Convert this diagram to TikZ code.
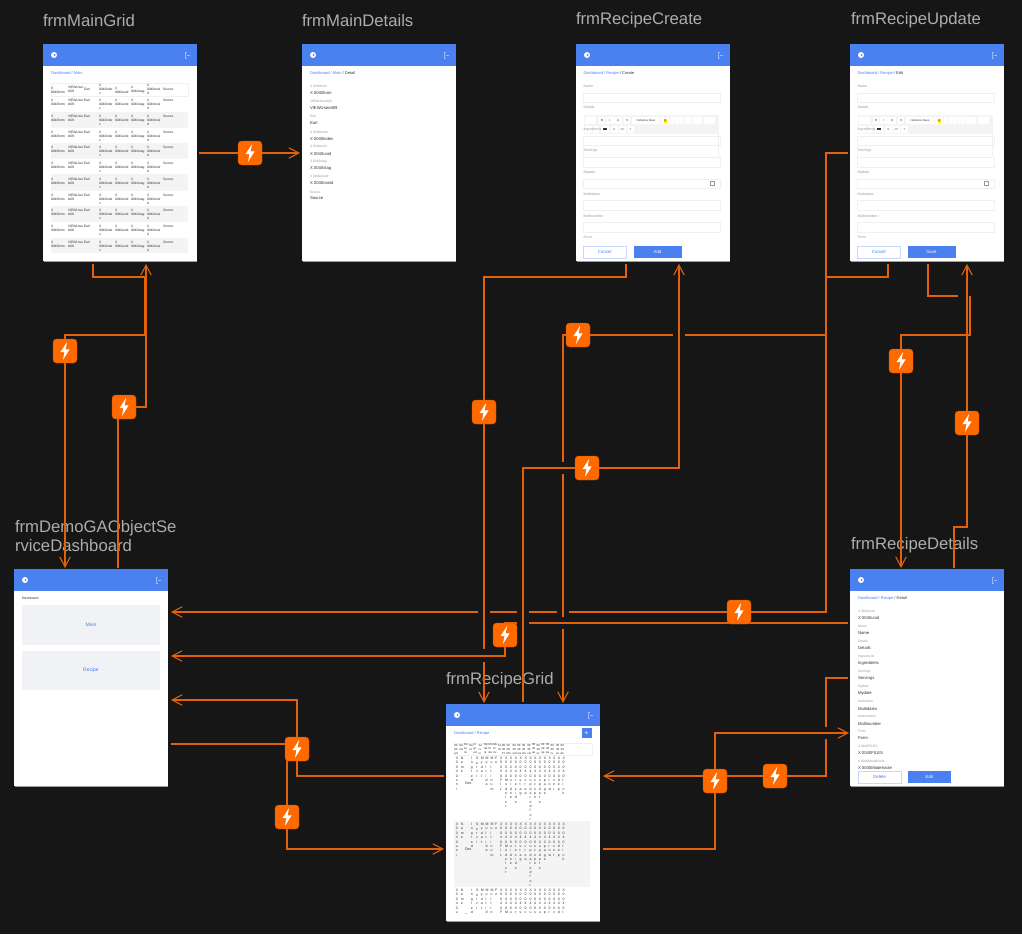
\documentclass[tikz,border=0pt]{standalone}
\usepackage{fontspec}
\setmainfont{Liberation Sans}
\usetikzlibrary{arrows.meta}
\definecolor{bgc}{HTML}{161616}
\definecolor{linec}{HTML}{E2620C}
\definecolor{boltc}{HTML}{FF6A00}
\definecolor{blu}{HTML}{4A80EF}
\definecolor{ttl}{HTML}{ADADAD}
\definecolor{gry}{HTML}{F4F4F4}
\definecolor{pane}{HTML}{F1F2F6}
\definecolor{edge}{HTML}{EEF0F3}
\definecolor{lab}{HTML}{9A9A9A}
\definecolor{val}{HTML}{333333}
\newcount\tn
% \putt[opts]{x}{y}{size}{text}
\newcommand\putt[5][]{\global\advance\tn by 1
  \node[anchor=west,inner sep=0pt,outer sep=0pt,align=left,text=val,font=\fontsize{#4}{4}\selectfont,#1] (t\the\tn) at ({#2},{#3}) {#5};}
\newcommand\scrtitle[3]{\putt[text=ttl,font=\fontsize{16.7}{18}\selectfont]{#1}{#2}{16.7}{#3}}
\newcommand\screenat[3]{%
  \fill[white!62!black] (#2+.7,#3+.7) rectangle ++(153.5,217);
  \node[screenbox] (#1) at (#2,#3) {};
  \node[headbox] (#1h) at (#2,#3) {};
  \fill[white] (#2+11,#3+11) circle (3);
  \fill[blu] (#2+11.6,#3+11) circle (1);
  \draw[white,opacity=.45,line width=.5pt] (#2+144,#3+8) -- (#2+142,#3+8) -- (#2+142,#3+14) -- (#2+144,#3+14) (#2+144,#3+11) -- (#2+147,#3+11);
}
\newcommand\bolt[3]{\node[boltbox] (#1) at (#2,#3) {};
  \fill[white,shift={(#1.center)}] (2,-8.8) -- (-4.6,1.2) -- (-0.6,1.2) -- (-2,8.8) -- (4.6,-1.6) -- (0.6,-1.6) -- cycle;}
\def\stk#1{\expandafter\stkA#1\relax}
\def\stkA#1{\ifx#1\relax\else\hbox{#1}\expandafter\stkA\fi}
\newcommand\stackcol[3]{\global\advance\tn by 1
  \node[anchor=north west,inner sep=0pt,text=val,font=\fontsize{3.5}{4}\selectfont] (t\the\tn) at (#1,#2) {\vtop{\baselineskip=4.35pt\lineskiplimit=-10pt\stk{#3}}};}
\newcommand\crumb[4]{\putt{#1}{#2}{4}{\textcolor{blu}{#3}#4}}
% form screen
\newcommand\formscreen[5]{%
  \screenat{#1}{#2}{44}
  \begin{scope}[xshift=#2 pt]
  \crumb{7.5}{73.5}{Dashboard / Recipe }{/ #3}
  \foreach \ly/\lt in {86/Name,107.5/Details,151/Servings,172.5/Mydate,194/Multidates,216/Multinumber,237.5/Form}{\putt[text=lab]{7.5}{\ly}{3.6}{\lt}}
  \foreach \ya/\yb in {93/102,136/145,157/167,179/188,200/210,222/232}{\draw[edge,line width=.5pt,fill=white] (7.5,\ya) rectangle (144,\yb);}
  \draw[edge,line width=.5pt] (7.5,145) -- (7.5,157) (142.5,134) -- (142.5,157);
  \fill[gry] (7.5,115) rectangle (143,134);
  \foreach \xa/\xb in {9.3/20.3,22.7/29.3,30/37.7,38.3/46,47.7/54.3,56/83.7,85.3/92.7,93.7/97.7,99.3/106.7,107.7/115.3,116/126,127.7/139}{\fill[white] (\xa,116.7) rectangle (\xb,124);}
  \foreach \xa/\xb in {9.3/16,16.7/23,25.3/32.7,35/41.7,42.7/50,51/57.7}{\fill[white] (\xa,126) rectangle (\xb,132.5);}
  \fill[yellow!85!orange] (87.5,118.5) rectangle (90.5,122.5);
  \foreach \tw/\tz in {26/B,33.8/I,42/U,51/S,89/A}{\putt[anchor=center]{\tw}{120.4}{3}{\tz}}
  \putt[anchor=center]{70}{120.4}{2.8}{Helvetica Neue}
  \foreach \tw/\tz in {38.3/X,46.3/{</>},54.3/?}{\putt[anchor=center]{\tw}{129.3}{2.8}{\tz}}
  \fill[val] (27,128.3) rectangle (31,130.3);
  \putt[text=lab]{7.7}{129.3}{3.6}{Ingredients}
  \draw[lab,line width=.4pt] (134,181) rectangle (138,185.5);
  \node[cancelbox] (#1c) at (28.8,252) {\textcolor{blu}{Cancel}};
  \node[okbox] (#1o) at (81.5,252) {#4};
  \end{scope}
}
\newcommand\dline[5]{\putt[text=lab]{#1}{#2}{3.3}{#4}\putt{#1}{#3}{4.2}{#5}}
\tikzset{
  screenbox/.style={fill=white,minimum width=153.5pt,minimum height=217pt,anchor=north west,inner sep=0pt,outer sep=0pt},
  headbox/.style={fill=blu,minimum width=153.5pt,minimum height=22pt,anchor=north west,inner sep=0pt,outer sep=0pt},
  boltbox/.style={fill=boltc,draw=boltc!75!black,line width=.4pt,rounded corners=3.5pt,minimum size=24pt,inner sep=0pt,outer sep=0pt},
  conn/.style={draw=linec,line width=1.08pt},
  flow/.style={conn,-{Straight Barb[length=10pt,width=10.5pt,line width=1.08pt]}},
  cancelbox/.style={draw=blu!30,line width=.6pt,fill=white,minimum width=43pt,minimum height=12pt,inner sep=0pt,font=\fontsize{4.4}{4}\selectfont},
  okbox/.style={fill=blu,text=white,minimum width=48pt,minimum height=12pt,inner sep=0pt,font=\fontsize{4.4}{4}\selectfont},
  panebox/.style={fill=pane,minimum width=138pt,minimum height=39.5pt,inner sep=0pt,text=blu,font=\fontsize{5}{5}\selectfont},
}
\begin{document}
\begin{tikzpicture}[x=1pt,y=-1pt]
\useasboundingbox (0,0) rectangle (1022,934);
\fill[bgc] (0,0) rectangle (1022,934);

% titles
\scrtitle{43}{20.5}{frmMainGrid}
\scrtitle{302}{20.5}{frmMainDetails}
\scrtitle{576}{20.5}{frmRecipeCreate}
\scrtitle{851}{20.5}{frmRecipeUpdate}
\scrtitle{15}{528}{frmDemoGAObjectSe}
\scrtitle{15}{546}{rviceDashboard}
\scrtitle{446}{680}{frmRecipeGrid}
\scrtitle{851}{545.5}{frmRecipeDetails}

% frmMainGrid
\screenat{mg}{43}{44}
\crumb{51}{73.5}{Dashboard / Main}{}
\draw[edge,line width=.4pt] (51,83) rectangle (188,96);
\foreach \ga/\gb in {112/128,143/159,174/191,206/222,238/253}{\fill[gry] (51,\ga) rectangle (188,\gb);}
\putt{51}{90}{3.3}{X\\0040form}
\putt{68}{89.5}{3.3}{VIEWUser\\id09}
\putt{84}{89.5}{3.3}{Earl}
\putt{99}{89.5}{3.3}{X\\0040inde\\x}
\putt{115}{90}{3.3}{X\\0040unid}
\putt{131}{90}{3.3}{X\\0040stag}
\putt{147}{89.5}{3.3}{X\\0040rowi\\d}
\putt{163}{89.5}{3.3}{Source}
\foreach \ry in {99,115,131,146.5,162.5,178,194,209.5,225.5,241}{
  \putt[anchor=north west]{51}{\ry}{3.3}{X\\0040form}
  \putt[anchor=north west]{68}{\ry}{3.3}{VIEWUser\\id09}
  \putt[anchor=north west]{84}{\ry}{3.3}{Earl}
  \putt[anchor=north west]{99}{\ry}{3.3}{X\\0040inde\\x}
  \putt[anchor=north west]{115}{\ry}{3.3}{X\\0040unid}
  \putt[anchor=north west]{131}{\ry}{3.3}{X\\0040stag}
  \putt[anchor=north west]{147}{\ry}{3.3}{X\\0040rowi\\d}
  \putt[anchor=north west]{163}{\ry}{3.3}{Source}
}

% frmMainDetails
\screenat{md}{302}{44}
\crumb{310}{73.5}{Dashboard / Main }{/ Detail}
\dline{310}{86.5}{93}{X 0040form}{X 0040form}
\dline{310}{101.5}{108}{VIEWUserid09}{VIEWUserid09}
\dline{310}{116.5}{123}{Earl}{Earl}
\dline{310}{132}{138.5}{X 0040index}{X 0040index}
\dline{310}{146.5}{153.5}{X 0040unid}{X 0040unid}
\dline{310}{161.5}{168}{X 0040stag}{X 0040stag}
\dline{310}{176.5}{183}{X 0040rowid}{X 0040rowid}
\dline{310}{192}{198.5}{Source}{Source}

% forms
\formscreen{rc}{576}{Create}{Add}{}
\formscreen{ru}{850}{Edit}{Save}{}

% Dashboard
\screenat{db}{14}{569}
\putt{22}{598.5}{3.4}{Dashboard}
\node[panebox] (pmain) at (91,625) {Main};
\node[panebox] (precipe) at (91,670.5) {Recipe};

% frmRecipeDetails
\screenat{rd}{850}{569}
\crumb{858}{598.5}{Dashboard / Recipe }{/ Detail}
\dline{858}{611.5}{618}{X 0040unid}{X 0040unid}
\dline{858}{626.5}{633}{Name}{Name}
\dline{858}{641.5}{648}{Details}{Details}
\dline{858}{656.5}{663.5}{Ingredients}{Ingredients}
\dline{858}{671.5}{678.5}{Servings}{Servings}
\dline{858}{686.5}{693.5}{Mydate}{Mydate}
\dline{858}{701.5}{708.5}{Multidates}{Multidates}
\dline{858}{716.5}{723.5}{Multinumber}{Multinumber}
\dline{858}{731.5}{738.5}{Form}{Form}
\dline{858}{746.5}{753.5}{X 0040FILES}{X 0040FILES}
\dline{858}{761.5}{768}{X 0040Modelsrole}{X 0040Modelsrole}
\fill[white] (850,769.5) rectangle (1003.5,786);
\node[cancelbox] (rdc) at (879.5,777) {\textcolor{blu}{Delete}};
\node[okbox,minimum width=43pt] (rde) at (929.5,777) {Edit};

% frmRecipeGrid
\screenat{rg}{446}{704}
\crumb{454}{733}{Dashboard / Recipe}{}
\node[fill=blu,minimum size=10pt,inner sep=0pt,text=white,font=\fontsize{7}{7}\selectfont] (plus) at (586.5,733) {+};
\draw[edge,line width=.4pt] (454,743) rectangle (592,755);
\fill[gry] (454,821) rectangle (590,887);
\foreach \cx/\ca/\cb/\cc in {454.3/00/40/uni,459.3/Na/me/,464.3/De/ta/ils,469.3/De/sc/,473.5/In/gr/ed,478.7/Se/rv/in,484/My/da/te,488.7/Mu/lti/da,493.3/Mu/lti/nu,498/Fo/rm/,502/00/40/FI,506.7/00/40/Mo,512.7/00/40/uid,517.3/00/40/res,522/00/40/sta,527.3/00/40/cre,532/00/40/up,536.7/00/40/sc,541.3/00/40/up,546/00/40/pa,550.7/00/40/ro,556/00/40/ve,560.7/00/40/de}{
  \putt{\cx}{749}{2.9}{\ca\\\cb\\\cc}
}
\begin{scope}
\clip (447,750) rectangle (599,913);
\foreach \ry in {757,823,889}{
  \foreach \cx/\s in {455.7/X0040uni,460.7/Name,470.7/Ingred,476/Servi,480.7/Mydat,485.3/Multida,490.3/Multinum,495/Fo,500/X0040FIL,505/X0040Modelsr,509.7/X0040uidne,514.7/X0040reside,519.3/X0040stag,524.3/X0040crea,529.3/X0040updatedfor,534/X0040scope,538.7/X0040update,543.7/X0040page,548.3/X0040row,553/X0040ver,557.7/X0040dep,562.3/X0040link}{
    \stackcol{\cx}{\ry}{\s}
  }
  \putt{465}{\ry+26}{3.6}{Des}
}
\end{scope}

% named connector ends
\coordinate (mgOut) at (93,264);
\coordinate (mgIn) at (146,264);
\coordinate (mgR) at (199,153);
\coordinate (mdL) at (300,153);
\coordinate (dbTopIn) at (65,568);
\coordinate (dbTopOut) at (118,568);
\coordinate (dbRa) at (171,612);
\coordinate (dbRb) at (171,656);
\coordinate (dbRc) at (171,700);
\coordinate (dbRd) at (171,744);
\coordinate (rcOut) at (626,264);
\coordinate (rcIn) at (679,264);
\coordinate (ruLeft) at (848,153);
\coordinate (ruOutA) at (888,264);
\coordinate (ruOutB) at (928,264);
\coordinate (ruIn) at (967,264);
\coordinate (rgTopA) at (484,703);
\coordinate (rgTopB) at (523,702);
\coordinate (rgTopC) at (563,703);
\coordinate (rgLa) at (444,776);
\coordinate (rgLb) at (444,849);
\coordinate (rgRa) at (603,776);
\coordinate (rgRb) at (603,849);
\coordinate (rdTopIn) at (901,568);
\coordinate (rdTopOut) at (954,568);
\coordinate (rdLa) at (848,623);
\coordinate (rdLb) at (848,678);
\coordinate (rdLc) at (849,733);

% connectors
\draw[flow] (mgOut) -- (93,277) -- (145,277) -- (145,335) -- (65,335) -- (dbTopIn);
\draw[flow] (dbTopOut) -- (118,407) -- (146,407) -- (mgIn);
\draw[flow] (mgR) -- (mdL);
\draw[flow] (rcOut) -- (626,277) -- (484,277) -- (484,649) (484,662) -- (rgTopA);
\draw[flow] (rgTopB) -- (523,468) -- (679,468) -- (rcIn);
\draw[conn] (ruOutA) -- (888,277) -- (826,277);
\draw[flow] (ruLeft) -- (826,153) -- (826,612) -- (569,612) (557,612) -- (529,612) (517,612) -- (490,612) (478,612) -- (dbRa);
\draw[flow] (826,335) -- (685,335) (673,335) -- (563,335) -- (563,462) (563,474) -- (563,617) (563,629) -- (rgTopC);
\draw[flow] (rdLa) -- (529,623) (517,623) -- (505,623) -- (505,656) -- (dbRb);
\draw[flow] (rdLb) -- (826,678) -- (826,727) (826,739) -- (826,776) -- (rgRa);
\draw[flow] (rgRb) -- (715,849) -- (715,733) -- (rdLc);
\draw[flow] (rgLa) -- (297,776) -- (297,700) -- (dbRc);
\draw[flow] (dbRd) -- (287,744) -- (287,849) -- (rgLb);
\draw[flow] (ruOutB) -- (928,296) -- (958,296) (970,296) -- (970,335) -- (958,335) -- (901,335) -- (rdTopIn);
\draw[flow] (rdTopOut) -- (954,527) -- (967,527) -- (ruIn);

% bolts
\bolt{b1}{65}{351}
\bolt{b2}{124}{407}
\bolt{b3}{250}{153}
\bolt{b4}{484}{412}
\bolt{b5}{578}{335}
\bolt{b6}{587}{468}
\bolt{b7}{739}{612}
\bolt{b8}{505}{635}
\bolt{b9}{297}{749}
\bolt{b10}{287}{817}
\bolt{b11}{715}{781}
\bolt{b12}{775}{776}
\bolt{b13}{901}{361}
\bolt{b14}{967}{423}
\end{tikzpicture}
\end{document}
